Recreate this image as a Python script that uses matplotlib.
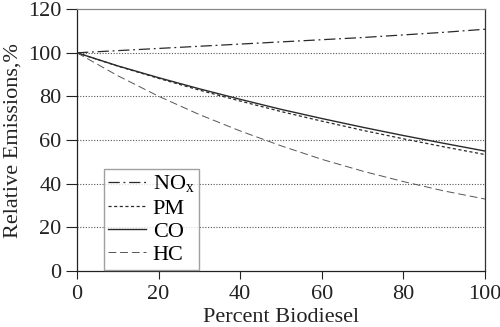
import matplotlib.pyplot as plt

plt.rcParams['font.family'] = ['Liberation Serif', 'DejaVu Serif']

# percent biodiesel in the blend
percent = [0, 10, 20, 30, 40, 50, 60, 70, 80, 90, 100]

# relative emissions, % of petroleum diesel
nox = [100, 101.0, 102.0, 103.0, 104.0, 105.0, 106.0, 107.0, 108.2, 109.4, 110.8]
pm = [100, 93.9, 88.3, 82.9, 77.9, 73.1, 68.7, 64.5, 60.6, 56.9, 53.4]
co = [100, 94.0, 88.6, 83.5, 78.7, 74.1, 69.9, 65.9, 62.1, 58.5, 55.0]
hc = [100, 89.5, 80.1, 71.7, 64.2, 57.4, 51.2, 45.8, 41.0, 36.7, 33.0]

xticks = [0, 20, 40, 60, 80, 100]
yticks = [0, 20, 40, 60, 80, 100, 120]

fig = plt.figure(figsize=(5.0, 3.27), dpi=100)
ax = fig.add_axes([0.154, 0.171, 0.816, 0.801])

lc = '#2a2a2a'
ax.plot(percent, nox, color=lc, lw=0.9, dashes=(9, 3, 1.5, 3), label='NO$_\\mathregular{x}$')
ax.plot(percent, pm, color=lc, lw=0.9, dashes=(2.5, 2), label='PM')
ax.plot(percent, co, color=lc, lw=1.0, ls='-', label='CO')
ax.plot(percent, hc, color='#555555', lw=0.7, dashes=(8, 4), label='HC')

ax.set_xlim(0, 100)
ax.set_ylim(0, 120)
ax.set_xticks(xticks)
ax.set_yticks(yticks)
ax.tick_params(axis='both', labelsize=16, direction='out', colors='#222222')
ax.tick_params(axis='y', length=8, width=0.8, pad=3)
ax.tick_params(axis='x', length=6, width=0.8, pad=4)

for y in yticks[1:-1]:
    ax.axhline(y, color='#555555', lw=0.8, ls=(0, (1, 1.5)), zorder=0)

ax.spines['top'].set_color('#888888')
ax.spines['right'].set_color('#333333')
ax.spines['left'].set_color('#222222')
ax.spines['bottom'].set_color('#222222')
for s in ax.spines.values():
    s.set_linewidth(0.9)

ax.set_xlabel('Percent Biodiesel', fontsize=16, labelpad=3, color='#222222')
ax.set_ylabel('Relative Emissions,%', fontsize=16, labelpad=4, color='#222222')

leg = ax.legend(loc='lower left', bbox_to_anchor=(0.066, 0.006), fontsize=16,
                frameon=True, fancybox=False, handlelength=1.7, handletextpad=0.3,
                labelspacing=0.12, borderpad=0.2, borderaxespad=0)
leg.get_frame().set_edgecolor('#888888')
leg.get_frame().set_linewidth(1.0)

fig.savefig('out.png', dpi=100)
